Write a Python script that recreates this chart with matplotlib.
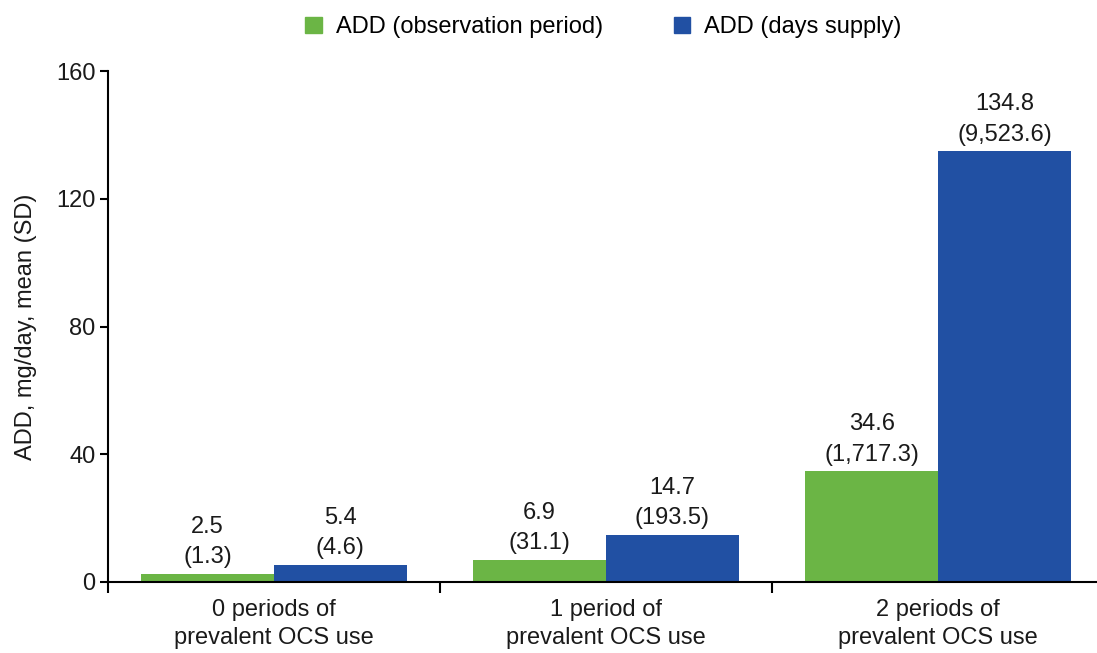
import matplotlib
matplotlib.use("Agg")
import matplotlib.pyplot as plt
import numpy as np
from matplotlib.patches import Patch

plt.rcParams['font.family'] = ['Liberation Sans', 'DejaVu Sans']

categories = ["0 periods of\nprevalent OCS use", "1 period of\nprevalent OCS use", "2 periods of\nprevalent OCS use"]
series_names = ["ADD (observation period)", "ADD (days supply)"]
obs_mean = [2.5, 6.9, 34.6]
obs_sd = ["1.3", "31.1", "1,717.3"]
days_mean = [5.4, 14.7, 134.8]
days_sd = ["4.6", "193.5", "9,523.6"]
yticks = [0, 40, 80, 120, 160]

green = "#6BB545"
blue = "#2150A3"
FS = 17

W, H = 1097, 653
fig = plt.figure(figsize=(W/100, H/100), dpi=100)
ax = fig.add_axes([108/W, (H-582)/H, 996/W, 511/H])

x = np.arange(len(categories))
bw = 0.4
ax.bar(x - bw/2, obs_mean, bw, color=green)
ax.bar(x + bw/2, days_mean, bw, color=blue)

for xi, m, sd in zip(x, obs_mean, obs_sd):
    ax.annotate(f"{m}\n({sd})", (xi - bw/2, m), xytext=(0, 4), textcoords="offset points",
                ha="center", va="bottom", fontsize=FS, linespacing=1.5, color="#1a1a1a")
for xi, m, sd in zip(x, days_mean, days_sd):
    ax.annotate(f"{m}\n({sd})", (xi + bw/2, m), xytext=(0, 4), textcoords="offset points",
                ha="center", va="bottom", fontsize=FS, linespacing=1.5, color="#1a1a1a")

ax.set_xlim(-0.5, 2.5)
ax.set_ylim(0, 160)
ax.set_yticks(yticks)
ax.set_yticklabels([str(v) for v in yticks], fontsize=FS, color="#1a1a1a")
ax.set_xticks([-0.5, 0.5, 1.5, 2.5])
ax.set_xticklabels([])
ax.set_xticks(x, minor=True)
ax.set_xticklabels(categories, minor=True, fontsize=FS, linespacing=1.4, color="#1a1a1a")
ax.tick_params(axis='x', which='minor', length=0, pad=12)
ax.tick_params(axis='x', which='major', length=8, width=1.5, direction='out')
ax.tick_params(axis='y', length=6, width=1.5, direction='out', pad=3)
ax.set_ylabel("ADD, mg/day, mean (SD)", fontsize=FS, labelpad=14, color="#1a1a1a")

for s in ['top', 'right']:
    ax.spines[s].set_visible(False)
for s in ['left', 'bottom']:
    ax.spines[s].set_linewidth(1.5)

handles = [Patch(color=green, label=series_names[0]), Patch(color=blue, label=series_names[1])]
fig.legend(handles=handles, loc='center', bbox_to_anchor=(0.55, 0.958), ncol=2, frameon=False,
           fontsize=FS, handlelength=0.7, handleheight=0.7, columnspacing=3.0, handletextpad=0.6)

fig.savefig("out.png", dpi=100)
